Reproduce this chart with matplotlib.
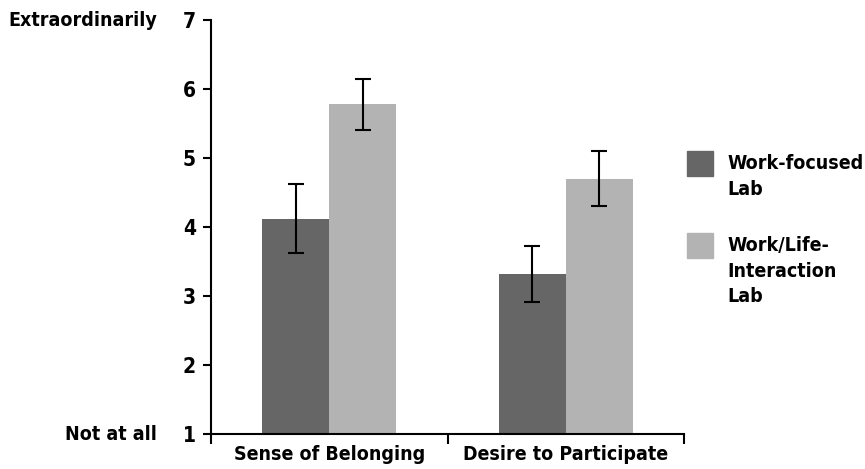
import matplotlib
matplotlib.use('Agg')
import matplotlib.pyplot as plt
from matplotlib.patches import Rectangle
from matplotlib.transforms import blended_transform_factory
import numpy as np

categories = ['Sense of Belonging', 'Desire to Participate']
series_names = ['Work-focused\nLab', 'Work/Life-\nInteraction\nLab']
work_focused = [4.12, 3.32]
work_focused_err = [0.50, 0.40]
work_life = [5.78, 4.70]
work_life_err = [0.37, 0.40]
y_ticks = [1, 2, 3, 4, 5, 6, 7]
y_end_labels = {7: 'Extraordinarily', 1: 'Not at all'}

colors = ['#666666', '#b3b3b3']
plt.rcParams['font.family'] = ['Liberation Sans Narrow', 'DejaVu Sans']
plt.rcParams['font.stretch'] = 'condensed'
plt.rcParams['font.weight'] = 'bold'
FS = 14

fig = plt.figure(figsize=(8.65, 4.69), dpi=100)
ax = fig.add_axes([211 / 865, 1 - 434 / 469, 473 / 865, 414 / 469])

centers = np.arange(len(categories)) + 0.5
w = 0.283
err_kw = dict(ecolor='black', elinewidth=1.5, capsize=6, capthick=1.5)
ax.bar(centers - w / 2, np.array(work_focused) - 1, w, bottom=1, color=colors[0],
       yerr=work_focused_err, error_kw=err_kw)
ax.bar(centers + w / 2, np.array(work_life) - 1, w, bottom=1, color=colors[1],
       yerr=work_life_err, error_kw=err_kw)

ax.set_xlim(0, len(categories))
ax.set_ylim(1, 7)
ax.set_yticks(y_ticks)
ax.set_yticklabels([str(t) for t in y_ticks], fontsize=FS + 1, fontweight='bold')
ax.tick_params(axis='y', length=6, width=1.5, pad=5)

ax.set_xticks(np.arange(len(categories) + 1))
ax.set_xticklabels([])
ax.tick_params(axis='x', which='major', length=7.5, width=1.5)
ax.set_xticks(centers, minor=True)
ax.set_xticklabels(categories, minor=True, fontsize=FS, fontweight='bold')
ax.tick_params(axis='x', which='minor', length=0, pad=8)

for s in ['top', 'right']:
    ax.spines[s].set_visible(False)
for s in ['left', 'bottom']:
    ax.spines[s].set_linewidth(1.5)

tr = blended_transform_factory(fig.transFigure, ax.transData)
for val, txt in y_end_labels.items():
    ax.text(157 / 865, val, txt, transform=tr, ha='right', va='center',
            fontsize=FS, fontweight='bold')

# legend drawn by hand
leg_tops = [151, 233]
for name, col, top in zip(series_names, colors, leg_tops):
    fig.add_artist(Rectangle((687 / 865, 1 - (top + 25) / 469), 26 / 865, 25 / 469,
                             transform=fig.transFigure, color=col))
    fig.text(727 / 865, 1 - (top + 3) / 469, name, ha='left', va='top',
             fontsize=FS, fontweight='bold', linespacing=1.45)

fig.savefig('out.png', dpi=100)
